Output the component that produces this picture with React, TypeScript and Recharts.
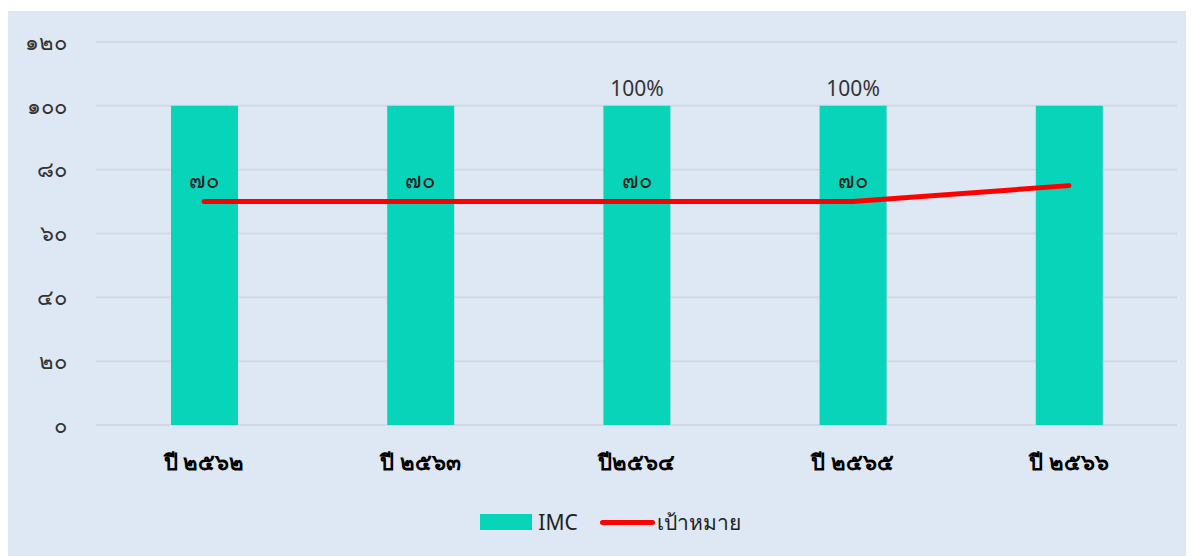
import {
  Bar,
  CartesianGrid,
  ComposedChart,
  LabelList,
  Legend,
  Line,
  XAxis,
  YAxis,
} from "recharts";

const years = ["ปี ๒๕๖๒", "ปี ๒๕๖๓", "ปี๒๕๖๔", "ปี ๒๕๖๕", "ปี ๒๕๖๖"];
const imc = [100, 100, 100, 100, 100];
const imcLabels = ["", "", "100%", "100%", ""];
const target = [70, 70, 70, 70, 75];
const targetLabels = ["๗๐", "๗๐", "๗๐", "๗๐", ""];
const yTicks = [0, 20, 40, 60, 80, 100, 120];
const yTickLabels = ["๐", "๒๐", "๔๐", "๖๐", "๘๐", "๑๐๐", "๑๒๐"];

const data = years.map((year, i) => ({
  year,
  imc: imc[i],
  imcLabel: imcLabels[i],
  target: target[i],
  targetLabel: targetLabels[i],
}));

const FONT = "Tahoma, 'Noto Sans', sans-serif";

function XTick({ x, y, payload }: any) {
  return (
    <text
      x={x}
      y={y}
      dy={37}
      textAnchor="middle"
      fill="#000"
      fontSize={22}
      fontWeight="bold"
      fontFamily={FONT}
    >
      {payload.value}
    </text>
  );
}

function LegendContent() {
  return (
    <div
      style={{
        height: 40,
        display: "flex",
        alignItems: "center",
        justifyContent: "center",
        paddingLeft: 36,
        fontFamily: FONT,
        fontSize: 21,
        color: "#222",
      }}
    >
      <span style={{ display: "inline-block", width: 52, height: 16, background: "#08d4b9", marginRight: 6 }} />
      <span style={{ marginRight: 22 }}>IMC</span>
      <span
        style={{
          display: "inline-block",
          width: 55,
          height: 5,
          borderRadius: 3,
          background: "#ff0000",
          marginRight: 2,
        }}
      />
      <span>เป้าหมาย</span>
    </div>
  );
}

export default function App() {
  return (
    <div style={{ marginTop: 3, width: 1186, height: 545, background: "#dde8f4" }}>
      <ComposedChart
        width={1186}
        height={545}
        data={data}
        margin={{ top: 31, right: 17, left: 0, bottom: 14 }}
      >
        <CartesianGrid vertical={false} stroke="#d3d8e6" strokeWidth={2} />
        <XAxis
          dataKey="year"
          axisLine={false}
          tickLine={false}
          height={77}
          tick={<XTick />}
          interval={0}
        />
        <YAxis
          width={88}
          domain={[0, 120]}
          ticks={yTicks}
          tickFormatter={(v: number) => yTickLabels[yTicks.indexOf(v)] ?? String(v)}
          axisLine={false}
          tickLine={false}
          tickSize={0}
          tickMargin={29}
          tick={{ fill: "#333", fontSize: 22, fontFamily: FONT }}
        />
        <Legend verticalAlign="bottom" height={40} content={<LegendContent />} />
        <Bar dataKey="imc" fill="#08d4b9" barSize={67} isAnimationActive={false}>
          <LabelList
            dataKey="imcLabel"
            position="top"
            offset={10}
            fill="#333"
            fontSize={21}
            fontFamily={FONT}
          />
        </Bar>
        <Line
          dataKey="target"
          stroke="#ff0000"
          strokeWidth={5}
          strokeLinecap="round"
          dot={false}
          activeDot={false}
          type="linear"
          isAnimationActive={false}
        >
          <LabelList
            dataKey="targetLabel"
            position="top"
            offset={14}
            fill="#222"
            fontSize={22}
            fontFamily={FONT}
          />
        </Line>
      </ComposedChart>
    </div>
  );
}
